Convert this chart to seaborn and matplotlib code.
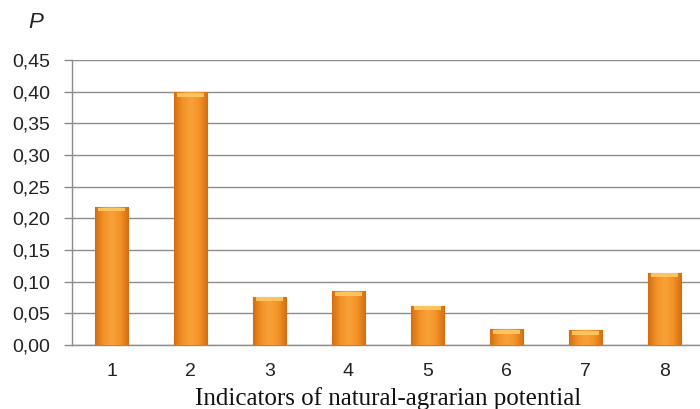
import matplotlib
matplotlib.use("Agg")
import matplotlib.pyplot as plt
import seaborn as sns
import numpy as np
import pandas as pd
from matplotlib.colors import LinearSegmentedColormap
from matplotlib.ticker import FixedLocator, FuncFormatter

# values
indicators = ["1", "2", "3", "4", "5", "6", "7", "8"]
probabilities = [0.218, 0.399, 0.076, 0.085, 0.062, 0.025, 0.023, 0.114]
y_ticks = [0.00, 0.05, 0.10, 0.15, 0.20, 0.25, 0.30, 0.35, 0.40, 0.45]

df = pd.DataFrame({"Indicator": indicators, "P": probabilities})

sns.set_style("white")
plt.rcParams["font.family"] = ["Liberation Sans", "DejaVu Sans"]

fig = plt.figure(figsize=(7.0, 4.09), dpi=100)
# the plot runs past the right edge of the image, as in the reference
ax = fig.add_axes([72 / 700, 1 - 345 / 409, 632 / 700, 285 / 409])

sns.barplot(data=df, x="Indicator", y="P", color="#F0901F", width=0.42,
            edgecolor="#C06A14", linewidth=0.8, ax=ax, zorder=3)

# horizontal shading inside each bar to mimic the rounded 3D look
cmap = LinearSegmentedColormap.from_list(
    "bar", ["#D26E12", "#F39227", "#F8A23A", "#F39227", "#D26E12"])
grad = np.linspace(0, 1, 64).reshape(1, -1)
for patch in ax.patches:
    x0, y0 = patch.get_x(), patch.get_y()
    w, h = patch.get_width(), patch.get_height()
    im = ax.imshow(grad, cmap=cmap, aspect="auto", extent=[x0, x0 + w, y0, y0 + h],
                   zorder=3.5, interpolation="bicubic")
    im.set_clip_path(patch)
    # light cap on top
    ax.fill_between([x0 + w * 0.08, x0 + w * 0.92], y0 + h - 0.007, y0 + h - 0.001,
                    color="#FFCC66", alpha=0.85, zorder=4, linewidth=0)

ax.set_xlim(-0.5, len(indicators) - 0.5)
ax.set_ylim(0, 0.45)
ax.yaxis.set_major_locator(FixedLocator(y_ticks))
ax.yaxis.set_major_formatter(FuncFormatter(lambda v, p: f"{v:.2f}".replace(".", ",")))
ax.grid(axis="y", color="#8C8C8C", linewidth=1.0, zorder=0)
ax.set_axisbelow(True)

for s in ["top", "right"]:
    ax.spines[s].set_visible(False)
for s in ["left", "bottom"]:
    ax.spines[s].set_color("#8C8C8C")
    ax.spines[s].set_linewidth(1.0)

# x tick marks sit between categories, labels at the centres
ax.set_xticks(np.arange(len(indicators)))
ax.set_xticklabels(indicators)
ax.set_xticks(np.arange(len(indicators) + 1) - 0.5, minor=True)
ax.tick_params(axis="x", which="major", length=0, labelsize=14, pad=13, colors="#222222")
ax.tick_params(axis="x", which="minor", length=5, width=1, color="#8C8C8C", direction="out")
ax.tick_params(axis="y", length=6, width=1, color="#8C8C8C", labelsize=14,
               left=True, pad=10)
for t in ax.get_yticklabels():
    t.set_color("#222222")

ax.set_ylabel("")
ax.set_xlabel("Indicators of natural-agrarian potential", fontsize=18,
              family=["Liberation Serif", "DejaVu Serif"], color="#111111", labelpad=5)
fig.text(36 / 700, 1 - 22 / 409, "P", fontsize=16, style="italic", ha="center",
         va="center", color="#222222")

fig.savefig("out.png", dpi=100)
